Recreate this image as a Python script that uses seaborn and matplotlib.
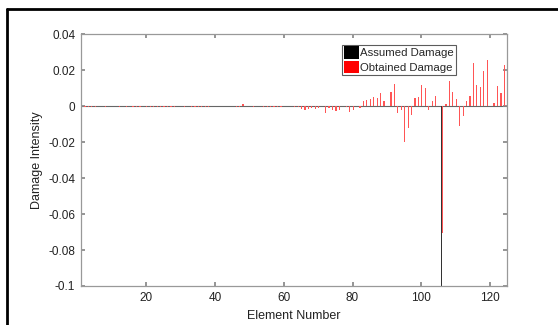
import numpy as np
import pandas as pd
import seaborn as sns
import matplotlib
matplotlib.use("Agg")
import matplotlib.pyplot as plt
from matplotlib.patches import Patch
from matplotlib.lines import Line2D

elements = list(range(1, 126))

obtained = [
    -0.0002, -0.0003, -0.0002, -0.0003, -0.0003, 0.0, 0.0, -0.0002, 0.0003, 0.0,
    0.0, -0.0002, 0.0, -0.0003, 0.0, -0.0002, -0.0002, -0.0003, 0.0, -0.0002,
    -0.0003, -0.0002, -0.0002, -0.0003, -0.0002, -0.0003, -0.0003, -0.0002, 0.0, 0.0,
    -0.0002, 0.0, -0.0002, -0.0002, -0.0003, -0.0002, -0.0002, -0.0002, 0.0, 0.0,
    0.0, 0.0, 0.0, 0.0, 0.0, -0.0002, -0.0005, 0.0012, 0.0003, 0.0002,
    -0.0002, 0.0004, 0.0002, -0.0002, -0.0003, -0.0003, -0.0002, -0.0003, -0.0002, 0.0,
    0.0, 0.0, -0.0002, -0.0005, -0.0015, -0.0020, -0.0015, -0.0007, -0.0015, -0.0010,
    0.0, -0.0037, -0.0010, -0.0022, -0.0024, -0.0020, 0.0004, -0.0004, -0.0030, -0.0022,
    0.0, -0.0007, 0.0030, 0.0033, 0.0040, 0.0050, 0.0044, 0.0073, 0.0030, 0.0,
    0.0080, 0.0127, -0.0037, -0.0018, -0.0196, -0.0123, -0.0046, 0.0046, 0.0050, 0.0117,
    0.0100, -0.0018, 0.0030, 0.0055, 0.0, -0.0703, 0.0015, 0.0140, 0.0080, 0.0040,
    -0.0110, -0.0053, 0.0030, 0.0059, 0.0240, 0.0117, 0.0106, 0.0198, 0.0260, 0.0,
    0.0018, 0.0114, 0.0075, 0.0230, 0.0015,
]

assumed = [0.0] * 125
assumed[105] = -0.1

series_names = ["Assumed Damage", "Obtained Damage"]
x_ticks = [20, 40, 60, 80, 100, 120]
y_ticks = [-0.1, -0.08, -0.06, -0.04, -0.02, 0, 0.02, 0.04]
y_tick_labels = ["-0.1", "-0.08", "-0.06", "-0.04", "-0.02", "0", "0.02", "0.04"]

df = pd.DataFrame({
    "Element": elements * 2,
    "Value": assumed + obtained,
    "Series": [series_names[0]] * 125 + [series_names[1]] * 125,
})

sns.set_theme(style="white")
plt.rcParams["font.family"] = ["Liberation Sans", "DejaVu Sans"]

fig = plt.figure(figsize=(5.58, 3.25), dpi=100)
ax = fig.add_axes([0.145, 0.12, 0.764, 0.774])

palette = {series_names[0]: "#333333", series_names[1]: "#ff5555"}
sns.barplot(data=df, x="Element", y="Value", hue="Series", hue_order=series_names,
            native_scale=True, palette=palette, width=0.7, dodge=True, ax=ax,
            linewidth=0, edgecolor="none", saturation=1, legend=False,
            errorbar=None)

ax.axhline(0, color="#666666", lw=0.8, zorder=0)
ax.set_xlim(1, 125)
ax.set_ylim(-0.1, 0.04)
ax.set_xticks(x_ticks)
ax.set_xticklabels([str(t) for t in x_ticks])
ax.set_yticks(y_ticks)
ax.set_yticklabels(y_tick_labels)
ax.tick_params(axis="both", direction="in", length=3, color="#888888",
               labelsize=8.5, top=True, right=True, bottom=True, left=True,
               pad=4, labelcolor="#222222")
for s in ax.spines.values():
    s.set_color("#999999")
    s.set_linewidth(0.9)
ax.set_xlabel("Element Number", fontsize=9, color="#222222")
ax.set_ylabel("Damage Intensity", fontsize=9, color="#222222")
ax.xaxis.set_label_coords(0.5, -0.097)
ax.yaxis.set_label_coords(-0.088, 0.5)

handles = [Patch(facecolor="#000000", edgecolor="none"),
           Patch(facecolor="#ff0000", edgecolor="none")]
leg = ax.legend(handles, series_names, loc="upper left",
                bbox_to_anchor=(0.613, 0.959), fontsize=8.2, frameon=True,
                fancybox=False, edgecolor="#333333", handlelength=1.3,
                handleheight=1.3, handletextpad=0.15, borderpad=0.15,
                labelspacing=0.15, borderaxespad=0)
leg.get_frame().set_linewidth(0.8)

# outer frame (left and top edges visible in the reference)
fig.add_artist(Line2D([0.0125, 0.0125], [0.0, 0.971], transform=fig.transFigure,
                      color="black", linewidth=2))
fig.add_artist(Line2D([0.0125, 1.0], [0.971, 0.971], transform=fig.transFigure,
                      color="black", linewidth=2))

fig.savefig("out.png", dpi=100)
